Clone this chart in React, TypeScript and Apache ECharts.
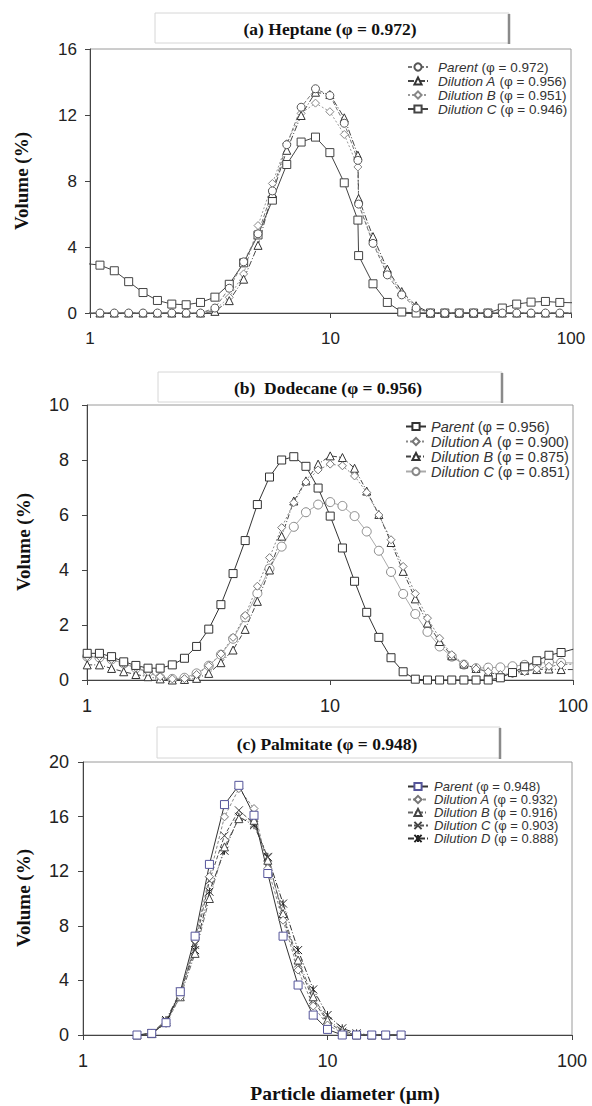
import React, { useEffect, useRef } from 'react';
import * as echarts from 'echarts';

// ---------- Panel (a) Heptane ----------
const xA = [0.958, 1.1, 1.262, 1.448, 1.662, 1.907, 2.188, 2.511, 2.881, 3.306, 3.794, 4.354, 4.996, 5.733, 6.578, 7.549, 8.662, 9.94, 11.41, 13.0, 13.09, 15.02, 17.23, 19.78, 22.69, 26.04, 29.88, 34.29, 39.35, 45.15, 51.81, 59.45, 68.22, 78.29, 89.84, 103.1];
const aParent = [0, 0, 0, 0, 0, 0, 0, 0, 0, 0.3, 1.5, 3.1, 4.8, 7.4, 10.2, 12.47, 13.59, 13.18, 11.5, 9.25, 6.6, 4.22, 2.31, 1.1, 0.3, 0, 0, 0, 0, 0, 0, 0, 0, 0, 0, 0];
const aDilA = [0, 0, 0, 0, 0, 0, 0, 0, 0, 0.1, 0.75, 2.05, 4.1, 7.24, 9.86, 11.97, 13.38, 13.24, 11.83, 9.56, 6.94, 4.63, 2.66, 1.3, 0.44, 0, 0, 0, 0, 0, 0, 0, 0, 0, 0, 0];
const aDilB = [0, 0, 0, 0, 0, 0, 0, 0, 0, 0.2, 0.95, 2.37, 5.3, 7.85, 10.26, 12.1, 12.72, 12.2, 10.82, 8.85, 6.64, 4.33, 2.5, 1.2, 0.36, 0, 0, 0, 0, 0, 0, 0, 0, 0, 0, 0];
const aDilC = [3.0, 2.9, 2.56, 1.9, 1.24, 0.76, 0.54, 0.5, 0.64, 0.96, 1.74, 3.04, 4.73, 6.84, 9.0, 10.36, 10.66, 9.72, 7.89, 5.63, 3.48, 1.77, 0.64, 0.06, 0, 0, 0, 0, 0, 0, 0.3, 0.54, 0.66, 0.7, 0.64, 0.62];
const namesA = ['Parent (φ = 0.972)', 'Dilution A (φ = 0.956)', 'Dilution B (φ = 0.951)', 'Dilution C (φ = 0.946)'];

// ---------- Panel (b) Dodecane ----------
const xB = [1.002, 1.125, 1.262, 1.416, 1.589, 1.783, 2.0, 2.244, 2.518, 2.825, 3.17, 3.557, 3.991, 4.477, 5.024, 5.637, 6.325, 7.096, 7.962, 8.934, 10.02, 11.25, 12.62, 14.16, 15.89, 17.83, 20.0, 22.44, 25.18, 28.25, 31.7, 35.57, 39.91, 44.77, 50.24, 56.37, 63.25, 70.96, 79.62, 89.34, 100.24];
const bParent = [0.97, 0.97, 0.85, 0.66, 0.53, 0.43, 0.43, 0.55, 0.79, 1.22, 1.85, 2.74, 3.87, 5.07, 6.38, 7.38, 8.0, 8.12, 7.77, 6.98, 5.96, 4.8, 3.59, 2.46, 1.55, 0.81, 0.3, 0.03, 0, 0, 0, 0, 0, 0, 0.08, 0.27, 0.48, 0.7, 0.9, 1.0, 1.12];
const bDilA = [0.85, 0.85, 0.75, 0.6, 0.45, 0.3, 0.12, 0.04, 0.05, 0.2, 0.52, 0.95, 1.55, 2.35, 3.41, 4.45, 5.54, 6.45, 7.2, 7.64, 7.85, 7.79, 7.42, 6.82, 6.0, 5.1, 4.13, 3.14, 2.25, 1.52, 0.92, 0.58, 0.4, 0.3, 0.2, 0.22, 0.3, 0.4, 0.5, 0.55, 0.58];
const bDilB = [0.55, 0.55, 0.42, 0.3, 0.2, 0.12, 0.04, 0.0, 0.02, 0.06, 0.24, 0.63, 1.09, 1.84, 2.86, 4.0, 5.23, 6.51, 7.24, 7.85, 8.15, 8.09, 7.7, 6.87, 6.02, 5.0, 3.95, 2.95, 2.07, 1.4, 0.88, 0.58, 0.42, 0.3, 0.15, 0.28, 0.35, 0.38, 0.4, 0.38, 0.38];
const bDilC = [0.85, 0.82, 0.75, 0.6, 0.43, 0.28, 0.08, 0.04, 0.08, 0.24, 0.52, 0.92, 1.5, 2.28, 3.15, 4.05, 4.85, 5.57, 6.1, 6.38, 6.47, 6.33, 5.96, 5.4, 4.7, 3.93, 3.13, 2.4, 1.75, 1.22, 0.85, 0.56, 0.43, 0.45, 0.46, 0.5, 0.55, 0.6, 0.65, 0.63, 0.62];
const namesB = ['Parent (φ = 0.956)', 'Dilution A (φ = 0.900)', 'Dilution B (φ = 0.875)', 'Dilution C (φ = 0.851)'];

// ---------- Panel (c) Palmitate ----------
const xC = [1.663, 1.91, 2.186, 2.5, 2.874, 3.289, 3.79, 4.34, 5.005, 5.7, 6.58, 7.58, 8.74, 10.0, 11.49, 13.15, 15.17, 17.3, 20.0];
const cParent = [0, 0.12, 0.9, 3.17, 7.24, 12.5, 16.88, 18.29, 16.1, 11.83, 7.24, 3.66, 1.46, 0.41, 0, 0, 0, 0, 0];
const cDilA = [0, 0.1, 0.85, 2.8, 6.95, 11.6, 15.98, 18.05, 16.59, 12.2, 8.41, 4.76, 2.12, 0.73, 0.17, 0, 0, 0, 0];
const cDilB = [0, 0.1, 0.98, 2.8, 5.98, 10.0, 13.78, 15.85, 15.73, 12.8, 8.9, 5.49, 2.8, 1.1, 0.37, 0, 0, 0, 0];
const cDilC = [0, 0.12, 1.0, 3.0, 6.6, 11.3, 14.6, 16.46, 15.49, 13.0, 8.66, 5.24, 2.56, 0.98, 0.24, 0.02, 0, 0, 0];
const cDilD = [0, 0.12, 1.1, 3.17, 6.22, 10.5, 13.5, 15.98, 15.37, 13.05, 9.63, 6.22, 3.34, 1.46, 0.49, 0.12, 0, 0, 0];
const namesC = ['Parent (φ = 0.948)', 'Dilution A (φ = 0.932)', 'Dilution B (φ = 0.916)', 'Dilution C (φ = 0.903)', 'Dilution D (φ = 0.888)'];

const xTicks = [1, 10, 100];
const titles = ['(a) Heptane (φ = 0.972)', '(b)  Dodecane (φ = 0.956)', '(c) Palmitate (φ = 0.948)'];
const yTitle = 'Volume (%)';
const xTitle = 'Particle diameter (µm)';

const CROSS = 'path://M0,0L10,10M10,0L0,10';
const STAR = 'path://M0,0L10,10M10,0L0,10M5,0L5,10';

const SANS = '"Liberation Sans", Arial, sans-serif';
const SERIF = '"Liberation Serif", "Times New Roman", serif';

function pairs(xs: number[], ys: number[]) {
  return xs.map((x, i) => [x, ys[i]]);
}

function mk(name: string, xs: number[], ys: number[], gi: number, symbol: string, size: number, border: string, line: string, type: any, lw = 1) {
  return {
    type: 'line',
    name,
    xAxisIndex: gi,
    yAxisIndex: gi,
    data: pairs(xs, ys),
    symbol,
    symbolSize: (v: number[]) => (v[0] < 1 || v[0] > 100 ? 0 : size),
    clip: true,
    lineStyle: { color: line, width: lw, type },
    itemStyle: { color: '#fff', borderColor: border, borderWidth: 1 },
    emphasis: { disabled: true },
  };
}

const grids = [
  { left: 90, top: 49, width: 481, height: 264 },
  { left: 87, top: 405, width: 486, height: 275 },
  { left: 83, top: 762, width: 489, height: 273 },
];
const yMax = [16, 10, 20];
const yInt = [4, 2, 4];
const tickFont = [17, 18, 18];
const yMargin = [13, 18, 14];

function legendCfg(names: string[], left: number, top: number, fs: number, lh: number, pad: number) {
  return {
    data: names,
    orient: 'vertical',
    left,
    top,
    itemWidth: 20,
    itemHeight: 9,
    itemGap: 0,
    selectedMode: false,
    formatter: (n: string) => {
      const i = n.indexOf(' (');
      return `{it|${n.slice(0, i)}}{n|${n.slice(i)}}`;
    },
    textStyle: {
      rich: {
        it: { fontStyle: 'italic', fontSize: fs, fontFamily: SANS, color: '#333', lineHeight: lh, padding: [0, 0, 0, pad] },
        n: { fontSize: fs, fontFamily: SANS, color: '#333', lineHeight: lh },
      },
    },
  };
}

function titleBox(x: number, y: number, w: number, h: number, text: string, cx: number, cy: number) {
  return [
    { type: 'rect', shape: { x, y, width: w, height: h }, style: { fill: '#fff', stroke: '#d6d6d6', lineWidth: 1 }, z: 10 },
    { type: 'line', shape: { x1: x + w, y1: y + 1, x2: x + w, y2: y + h + 1 }, style: { stroke: '#8a8a8a', lineWidth: 2.5 }, z: 11 },
    {
      type: 'text', x: cx, y: cy, z: 12,
      style: { text, fontFamily: SERIF, fontWeight: 'bold', fontSize: 17.5, fill: '#111', textAlign: 'center', textVerticalAlign: 'middle' },
    },
  ];
}

function yTitleText(cx: number, cy: number) {
  return {
    type: 'text', x: cx, y: cy, rotation: Math.PI / 2, z: 12,
    style: { text: yTitle, fontFamily: SERIF, fontWeight: 'bold', fontSize: 19, fill: '#111', textAlign: 'center', textVerticalAlign: 'middle' },
  };
}

export default function App() {
  const ref = useRef<HTMLDivElement>(null);
  useEffect(() => {
    if (!ref.current) return;
    const chart = echarts.init(ref.current, null, { renderer: 'svg' });
    const option: any = {
      animation: false,
      backgroundColor: '#fff',
      grid: grids.map((g) => ({ ...g, show: true, borderColor: '#9a9a9a', borderWidth: 1, backgroundColor: 'transparent' })),
      xAxis: grids.map((_, i) => ({
        type: 'log',
        logBase: 10,
        min: xTicks[0],
        max: xTicks[2],
        gridIndex: i,
        axisLine: { show: true, lineStyle: { color: '#444', width: 1 } },
        axisTick: { show: true, length: 5, lineStyle: { color: '#444' } },
        minorTick: { show: false },
        axisLabel: { fontSize: tickFont[i], color: '#222', fontFamily: SANS, margin: 17 },
        splitLine: { show: false },
      })),
      yAxis: grids.map((_, i) => ({
        type: 'value',
        min: 0,
        max: yMax[i],
        interval: yInt[i],
        gridIndex: i,
        axisLine: { show: true, lineStyle: { color: '#444', width: 1 } },
        axisTick: { show: true, length: 5, lineStyle: { color: '#444' } },
        axisLabel: { fontSize: tickFont[i], color: '#222', fontFamily: SANS, margin: yMargin[i] },
        splitLine: { show: false },
      })),
      legend: [
        legendCfg(namesA, 402, 55, 13.5, 20, 5),
        legendCfg(namesB, 400, 414, 14.5, 21, 0),
        legendCfg(namesC, 402, 775, 13, 20, 1),
      ],
      series: [
        mk(namesA[3], xA, aDilC, 0, 'rect', 8, '#444', '#444', 'solid'),
        mk(namesA[2], xA, aDilB, 0, 'diamond', 8, '#888', '#999', [2, 2]),
        mk(namesA[1], xA, aDilA, 0, 'triangle', 8, '#333', '#444', [6, 2, 1, 2]),
        mk(namesA[0], xA, aParent, 0, 'circle', 8, '#555', '#777', [4, 2]),

        mk(namesB[3], xB, bDilC, 1, 'circle', 9, '#888', '#aaa', 'solid'),
        mk(namesB[2], xB, bDilB, 1, 'triangle', 8, '#333', '#444', [5, 2, 1, 2]),
        mk(namesB[1], xB, bDilA, 1, 'diamond', 8, '#777', '#888', [2, 2]),
        mk(namesB[0], xB, bParent, 1, 'rect', 8, '#333', '#333', 'solid'),

        mk(namesC[4], xC, cDilD, 2, STAR, 8, '#222', '#333', [6, 2, 1, 2]),
        mk(namesC[3], xC, cDilC, 2, CROSS, 8, '#444', '#555', [4, 2]),
        mk(namesC[2], xC, cDilB, 2, 'triangle', 8, '#444', '#666', [5, 2, 1, 2]),
        mk(namesC[1], xC, cDilA, 2, 'diamond', 8, '#777', '#888', [3, 2]),
        mk(namesC[0], xC, cParent, 2, 'rect', 8, '#55559a', '#333', 'solid'),
      ],
      graphic: [
        ...titleBox(155, 13, 354, 30, titles[0], 330, 29),
        ...titleBox(158, 372, 344, 30, titles[1], 328, 388),
        ...titleBox(157, 727, 343, 31, titles[2], 327, 744),
        yTitleText(21, 181),
        yTitleText(23, 542),
        yTitleText(23, 898),
        {
          type: 'text', x: 345, y: 1093, z: 12,
          style: { text: xTitle, fontFamily: SERIF, fontWeight: 'bold', fontSize: 19.5, fill: '#111', textAlign: 'center', textVerticalAlign: 'middle' },
        },
      ],
    };
    chart.setOption(option);
    return () => chart.dispose();
  }, []);
  return <div ref={ref} style={{ position: 'absolute', left: 0, top: 0, width: 592, height: 1106 }} />;
}
